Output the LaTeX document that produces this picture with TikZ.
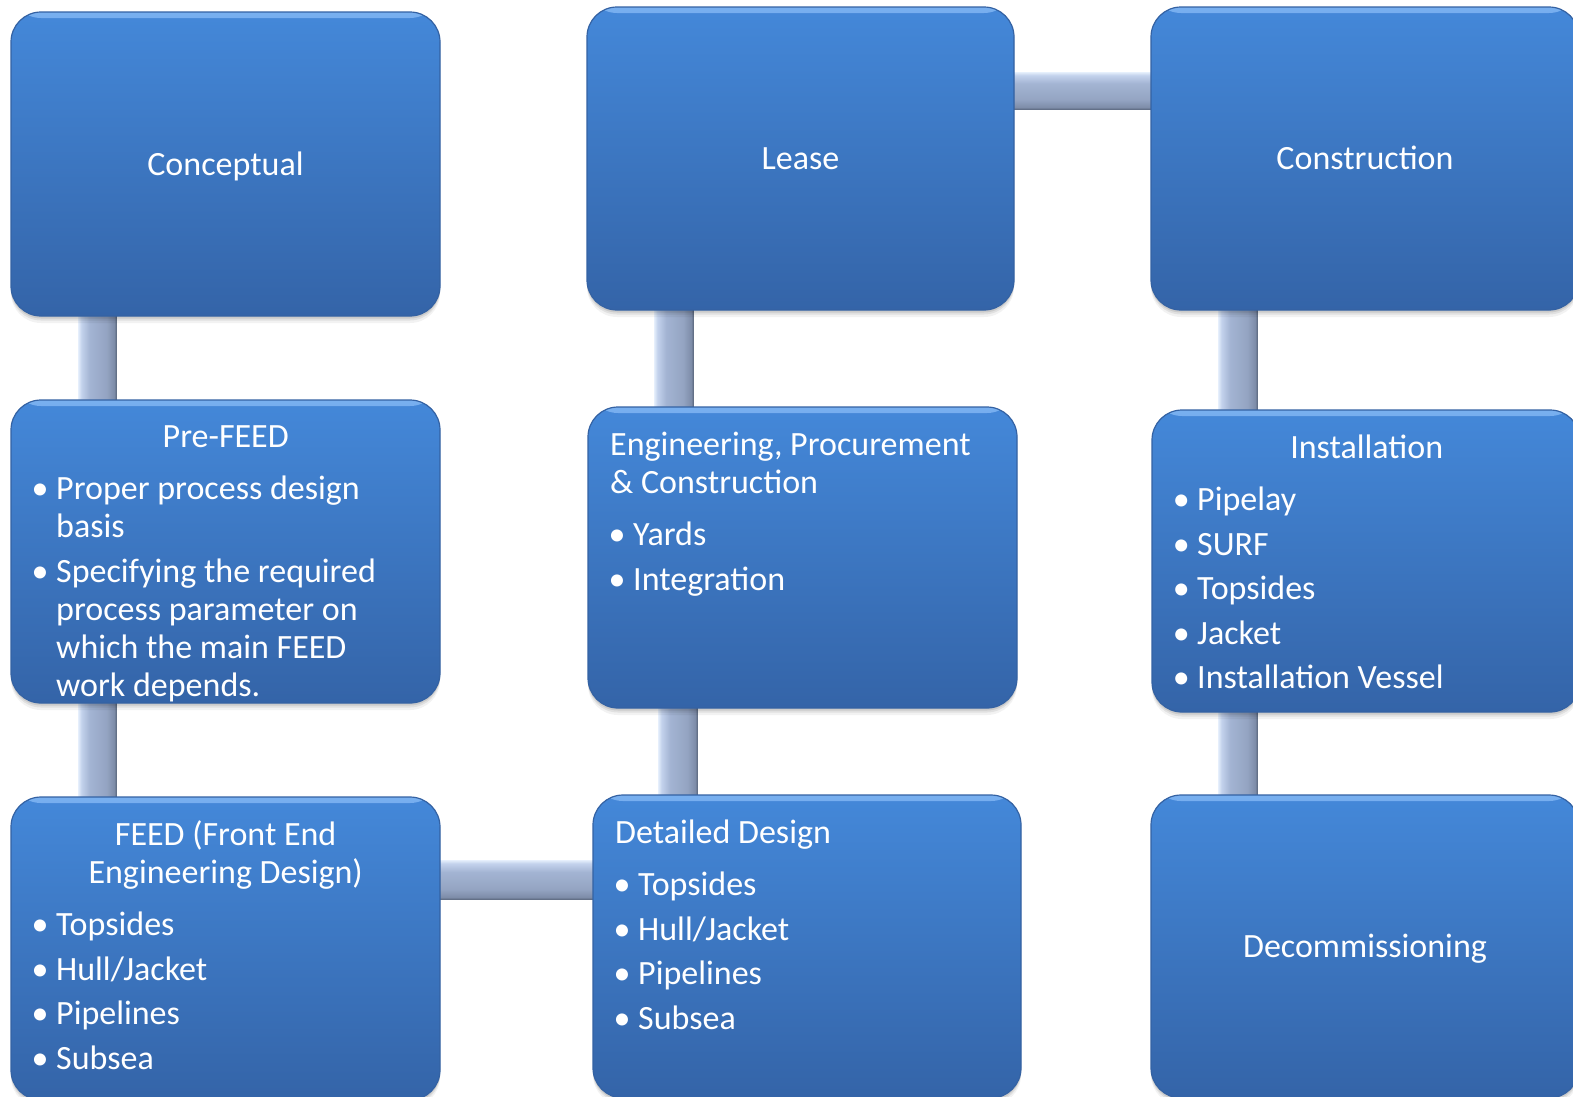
\documentclass[tikz,border=0pt]{standalone}
\usepackage{fontspec}
\setmainfont{Carlito}
\usetikzlibrary{calc}
\definecolor{boxtop}{HTML}{4488D9}
\definecolor{boxbot}{HTML}{3464A8}
\definecolor{boxedge}{HTML}{3462A3}
\definecolor{rimtop}{HTML}{78AFEF}
\definecolor{cl0}{HTML}{E2ECFA}
\definecolor{cl1}{HTML}{C3D2EC}
\definecolor{cl2}{HTML}{A3B4D3}
\definecolor{cl3}{HTML}{94A4C2}
\definecolor{cl4}{HTML}{7E8DA9}
\definecolor{cl5}{HTML}{5D6A80}
\pgfdeclarehorizontalshading{vconn}{100bp}{color(0bp)=(cl0); color(25bp)=(cl0); color(29bp)=(cl1); color(40bp)=(cl2); color(62bp)=(cl3); color(72bp)=(cl4); color(75bp)=(cl5); color(100bp)=(cl5)}
\pgfdeclareverticalshading{hconn}{100bp}{color(0bp)=(cl5); color(25bp)=(cl5); color(28bp)=(cl4); color(38bp)=(cl3); color(60bp)=(cl2); color(71bp)=(cl1); color(75bp)=(cl0); color(100bp)=(cl0)}
\pgfdeclarelayer{bg}
\pgfsetlayers{bg,main}
\newcommand{\bitem}[1]{\par\vspace{6.5pt}\hangindent=23pt\hangafter=1\noindent\makebox[23pt][l]{\makebox[14pt][c]{•}}#1}
\newcommand{\ctitle}[1]{{\centering #1\par}\vspace{8pt}}
\newcommand{\ltitle}[1]{#1\par\vspace{8pt}}
\newcommand{\tbox}[1]{\parbox[t]{385pt}{\raggedright\parindent=0pt\parskip=0pt\hyphenpenalty=10000 #1}}
\begin{document}
\begin{tikzpicture}[x=1pt,y=-1pt,
  box/.style={rectangle, rounded corners=30pt, inner sep=0pt, text=white,
    font=\fontsize{34pt}{38pt}\selectfont, text height=22pt, text depth=0pt,
    top color=boxtop, bottom color=boxbot, draw=boxedge, line width=1.2pt,
    path picture={\shade[top color=rimtop, bottom color=boxtop]
      (path picture bounding box.north west) rectangle ([yshift=-6pt]path picture bounding box.north east);},
    preaction={fill=black, fill opacity=0.05, transform canvas={yshift=-7pt}},
    preaction={fill=black, fill opacity=0.07, transform canvas={yshift=-4.5pt}},
    preaction={fill=black, fill opacity=0.09, transform canvas={yshift=-2.5pt}}},
  txt/.style={anchor=base west, inner sep=0pt, text=white, font=\fontsize{34pt}{38pt}\selectfont}]
\begin{pgfonlayer}{bg}
\fill[white] (0,0) rectangle (1573,1096);
\end{pgfonlayer}
\useasboundingbox (0,0) rectangle (1573,1096);
\clip (0,0) rectangle (1573,1096);

% boxes
\node[box, minimum width=429pt, minimum height=304pt] (concept) at (225.5,164) {Conceptual};
\node[box, minimum width=427pt, minimum height=303pt] (lease) at (800.5,158.5) {Lease};
\node[box, minimum width=428pt, minimum height=303pt] (constr) at (1365,158.5) {Construction};
\node[box, minimum width=429pt, minimum height=303pt] (prefeed) at (225.5,551.5) {};
\node[box, minimum width=429pt, minimum height=301pt] (epc) at (802.5,557.5) {};
\node[box, minimum width=428pt, minimum height=302pt] (install) at (1366,561) {};
\node[box, minimum width=429pt, minimum height=303pt] (feed) at (225.5,948.5) {};
\node[box, minimum width=428pt, minimum height=303pt] (detail) at (807,946.5) {};
\node[box, minimum width=428pt, minimum height=303pt] (decom) at (1365,946.5) {Decommissioning};

% texts
\node[txt] (prefeed-t) at (33,447) {\tbox{\ctitle{Pre-FEED}%
\bitem{Proper process design\newline basis}%
\bitem{Specifying the required\newline process parameter on\newline which the main FEED\newline work depends.}}};
\node[txt] (epc-t) at (610,455) {\tbox{\ltitle{Engineering, Procurement\\ \& Construction}%
\bitem{Yards}%
\bitem{Integration}}};
\node[txt] (install-t) at (1174,458) {\tbox{\ctitle{Installation}%
\bitem{Pipelay}%
\bitem{SURF}%
\bitem{Topsides}%
\bitem{Jacket}%
\bitem{Installation Vessel}}};
\node[txt] (feed-t) at (33,845) {\tbox{\ctitle{FEED (Front End\\ Engineering Design)}%
\bitem{Topsides}%
\bitem{Hull/Jacket}%
\bitem{Pipelines}%
\bitem{Subsea}}};
\node[txt] (detail-t) at (615,843) {\tbox{\ltitle{Detailed Design}%
\bitem{Topsides}%
\bitem{Hull/Jacket}%
\bitem{Pipelines}%
\bitem{Subsea}}};

% connectors
\coordinate (fd) at (detail.north west |- feed.north);
\begin{pgfonlayer}{bg}
\shade[shading=vconn] ($(concept.south west)+(68,-12)$) rectangle ($(prefeed.north west)+(106,12)$);
\shade[shading=vconn] ($(prefeed.south west)+(68,-12)$) rectangle ($(feed.north west)+(106,12)$);
\shade[shading=hconn] ($(feed.north east)+(-12,64)$) rectangle ($(fd)+(12,103)$);
\shade[shading=vconn] ($(epc.south west)+(71,-12)$) rectangle ($(detail.north west)+(105,12)$);
\shade[shading=vconn] ($(lease.south west)+(68,-12)$) rectangle ($(epc.north west)+(106,12)$);
\shade[shading=hconn] ($(lease.north east)+(-12,66)$) rectangle ($(constr.north west)+(12,103)$);
\shade[shading=vconn] ($(constr.south west)+(68,-12)$) rectangle ($(install.north west)+(106,12)$);
\shade[shading=vconn] ($(install.south west)+(67,-12)$) rectangle ($(decom.north west)+(107,12)$);
\end{pgfonlayer}
\end{tikzpicture}
\end{document}
